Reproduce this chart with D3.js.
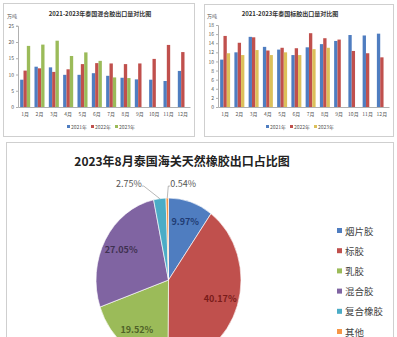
<!DOCTYPE html>
<html>
<head>
<meta charset="utf-8">
<script src="https://cdn.jsdelivr.net/npm/d3@7"></script>
<style>
  html, body { margin: 0; padding: 0; background: #fff; }
  svg { display: block; }
  text { font-family: "Noto Sans CJK SC", "DejaVu Sans", sans-serif; }
</style>
</head>
<body>
<svg id="chart" width="397" height="337"></svg>
<script>
// ---- data ----
const months = ["1月","2月","3月","4月","5月","6月","7月","8月","9月","10月","11月","12月"];
const years = ["2021年","2022年","2023年"];

// 混合胶 exports (万吨)
const mixed2021 = [8.4, 12.4, 12.2, 9.9, 9.9, 10.4, 9.6, 9.0, 8.5, 8.4, 8.0, 11.1];
const mixed2022 = [11.2, 11.9, 10.8, 11.6, 13.2, 13.5, 13.4, 13.2, 13.4, 14.8, 19.1, 16.9];
const mixed2023 = [18.8, 19.2, 20.4, 15.7, 16.8, 14.2, 9.1, 8.9];
const mixedTicks = [0, 5, 10, 15, 20, 25];

// 标胶 exports (万吨)
const tsr2021 = [10.4, 12.0, 15.4, 13.2, 12.6, 11.4, 13.1, 13.8, 14.5, 15.8, 15.7, 16.1];
const tsr2022 = [15.6, 14.1, 15.3, 12.4, 13.0, 12.9, 16.2, 15.1, 14.8, 12.3, 11.8, 10.9];
const tsr2023 = [11.8, 11.4, 12.5, 11.4, 12.0, 11.4, 12.7, 13.0];
const tsrTicks = [0, 2, 4, 6, 8, 10, 12, 14, 16, 18];

// August 2023 export share (%)
const shareNames = ["烟片胶","标胶","乳胶","混合胶","复合橡胶","其他"];
const shareValues = [9.97, 40.17, 19.52, 27.05, 2.75, 0.54];

const svg = d3.select("#chart");

// panel frames
function frame(x, y, w, h) {
  svg.append("rect").attr("x", x).attr("y", y).attr("width", w).attr("height", h)
    .attr("fill", "#fff").attr("stroke", "#cfcfcf").attr("stroke-width", 1);
}
frame(3.5, 3.5, 191, 133);
frame(204.5, 4.5, 189, 132);
frame(6.5, 142.5, 387, 200);

// grouped bar chart
function barChart(opt) {
  const g = svg.append("g");
  const x = d3.scaleBand().domain(months).range([opt.x0, opt.x1]).paddingInner(0.3).paddingOuter(0.15);
  const sub = d3.scaleBand().domain(years).range([0, x.bandwidth()]);
  const y = d3.scaleLinear().domain(opt.domain).range([opt.y0, opt.y1]);

  g.append("text").attr("x", opt.titleX).attr("y", 16).attr("text-anchor", "middle")
    .attr("font-size", 6).attr("font-weight", "bold").attr("fill", "#333").text(opt.title);
  g.append("text").attr("x", opt.x0 - 6).attr("y", 18).attr("text-anchor", "middle")
    .attr("font-size", 5).attr("fill", "#555").text("万吨");

  const yAxis = g.append("g").attr("transform", `translate(${opt.x0},0)`)
    .call(d3.axisLeft(y).tickValues(opt.ticks).tickSize(2).tickPadding(2));
  yAxis.selectAll("text").attr("font-size", 5).attr("fill", "#555");
  yAxis.selectAll("line, path").attr("stroke", "#b0b0b0");

  const xAxis = g.append("g").attr("transform", `translate(0,${opt.y0})`)
    .call(d3.axisBottom(x).tickSize(0).tickPadding(5));
  xAxis.selectAll("text").attr("font-size", 5).attr("fill", "#555");
  xAxis.selectAll("path").attr("stroke", "#b0b0b0");

  opt.series.forEach((vals, si) => {
    g.append("g").selectAll("rect").data(vals).join("rect")
      .attr("x", (d, i) => x(months[i]) + sub(years[si]))
      .attr("width", sub.bandwidth())
      .attr("y", d => y(d))
      .attr("height", d => opt.y0 - y(d))
      .attr("fill", opt.colors[si]);
  });

  // legend
  const lg = g.append("g");
  let lx = opt.legendX;
  years.forEach((yr, i) => {
    lg.append("rect").attr("x", lx).attr("y", 125).attr("width", 3).attr("height", 3).attr("fill", opt.colors[i]);
    lg.append("text").attr("x", lx + 4).attr("y", 128.5).attr("font-size", 5).attr("fill", "#555").text(yr);
    lx += 24;
  });
}

barChart({
  title: "2021-2023年泰国混合胶出口量对比图", titleX: 100,
  x0: 18, x1: 190, y0: 107, y1: 25.75, domain: [0, 25], ticks: mixedTicks,
  series: [mixed2021, mixed2022, mixed2023],
  colors: ["#4f7dc0", "#c0504d", "#9bbb59"], legendX: 67
});
barChart({
  title: "2021-2023年泰国标胶出口量对比图", titleX: 290,
  x0: 218, x1: 389, y0: 107, y1: 25, domain: [0, 18], ticks: tsrTicks,
  series: [tsr2021, tsr2022, tsr2023],
  colors: ["#4f7dc0", "#c0504d", "#dcc05a"], legendX: 266
});

// ---- pie ----
const pieColors = ["#4f7dc0", "#c0504d", "#9bbb59", "#8064a2", "#4bacc6", "#f79646"];
const labelColors = ["#1f3b73", "#7a1c1a", "#4f6228", "#3f3151", "#555", "#555"];
const cx = 168.5, cy = 280, R = 72.5, sy = 1.13;

svg.append("text").attr("x", 182).attr("y", 166).attr("text-anchor", "middle")
  .attr("font-size", 12).attr("font-weight", "bold").attr("fill", "#222")
  .text("2023年8月泰国海关天然橡胶出口占比图");

const pie = d3.pie().sort(null).value(d => d)(shareValues);
const arc = d3.arc().innerRadius(0).outerRadius(R);
const pg = svg.append("g").attr("transform", `translate(${cx},${cy}) scale(1,${sy})`);
pg.selectAll("path").data(pie).join("path")
  .attr("d", arc).attr("fill", (d, i) => pieColors[i])
  .attr("stroke", "#fff").attr("stroke-width", 0.6);

const fmt = v => v.toFixed(2) + "%";
const inner = d3.arc().innerRadius(R * 0.75).outerRadius(R * 0.75);
pie.forEach((d, i) => {
  if (d.value < 5) return;
  const [px, py] = inner.centroid(d);
  svg.append("text").attr("x", cx + px).attr("y", cy + py * sy + 3)
    .attr("text-anchor", "middle").attr("font-size", 9).attr("font-weight", "bold")
    .attr("fill", labelColors[i]).text(fmt(d.value));
});

// small slices: labels above the pie with leader lines
const small = pie.filter(d => d.value < 5);
small.forEach((d, k) => {
  const a = (d.startAngle + d.endAngle) / 2;
  const ex = cx + R * Math.sin(a), ey = cy - R * Math.cos(a) * sy;
  const ly = cy - R * sy - 12;
  const left = k === 0;
  const lx = left ? ex - 16 : ex + 1;
  svg.append("polyline")
    .attr("points", `${ex},${ey} ${lx},${ly} ${left ? lx - 2 : lx + 2},${ly}`)
    .attr("fill", "none").attr("stroke", "#888").attr("stroke-width", 0.6);
  svg.append("text").attr("x", left ? lx - 2 : lx + 2).attr("y", ly + 1)
    .attr("text-anchor", left ? "end" : "start").attr("font-size", 9)
    .attr("fill", "#555").text(fmt(d.value));
});

// pie legend
shareNames.forEach((n, i) => {
  const y = 231 + i * 20.2;
  svg.append("rect").attr("x", 337).attr("y", y - 3).attr("width", 5).attr("height", 5).attr("fill", pieColors[i]);
  svg.append("text").attr("x", 345).attr("y", y + 3.5).attr("font-size", 9.5).attr("fill", "#444").text(n);
});
</script>
</body>
</html>
